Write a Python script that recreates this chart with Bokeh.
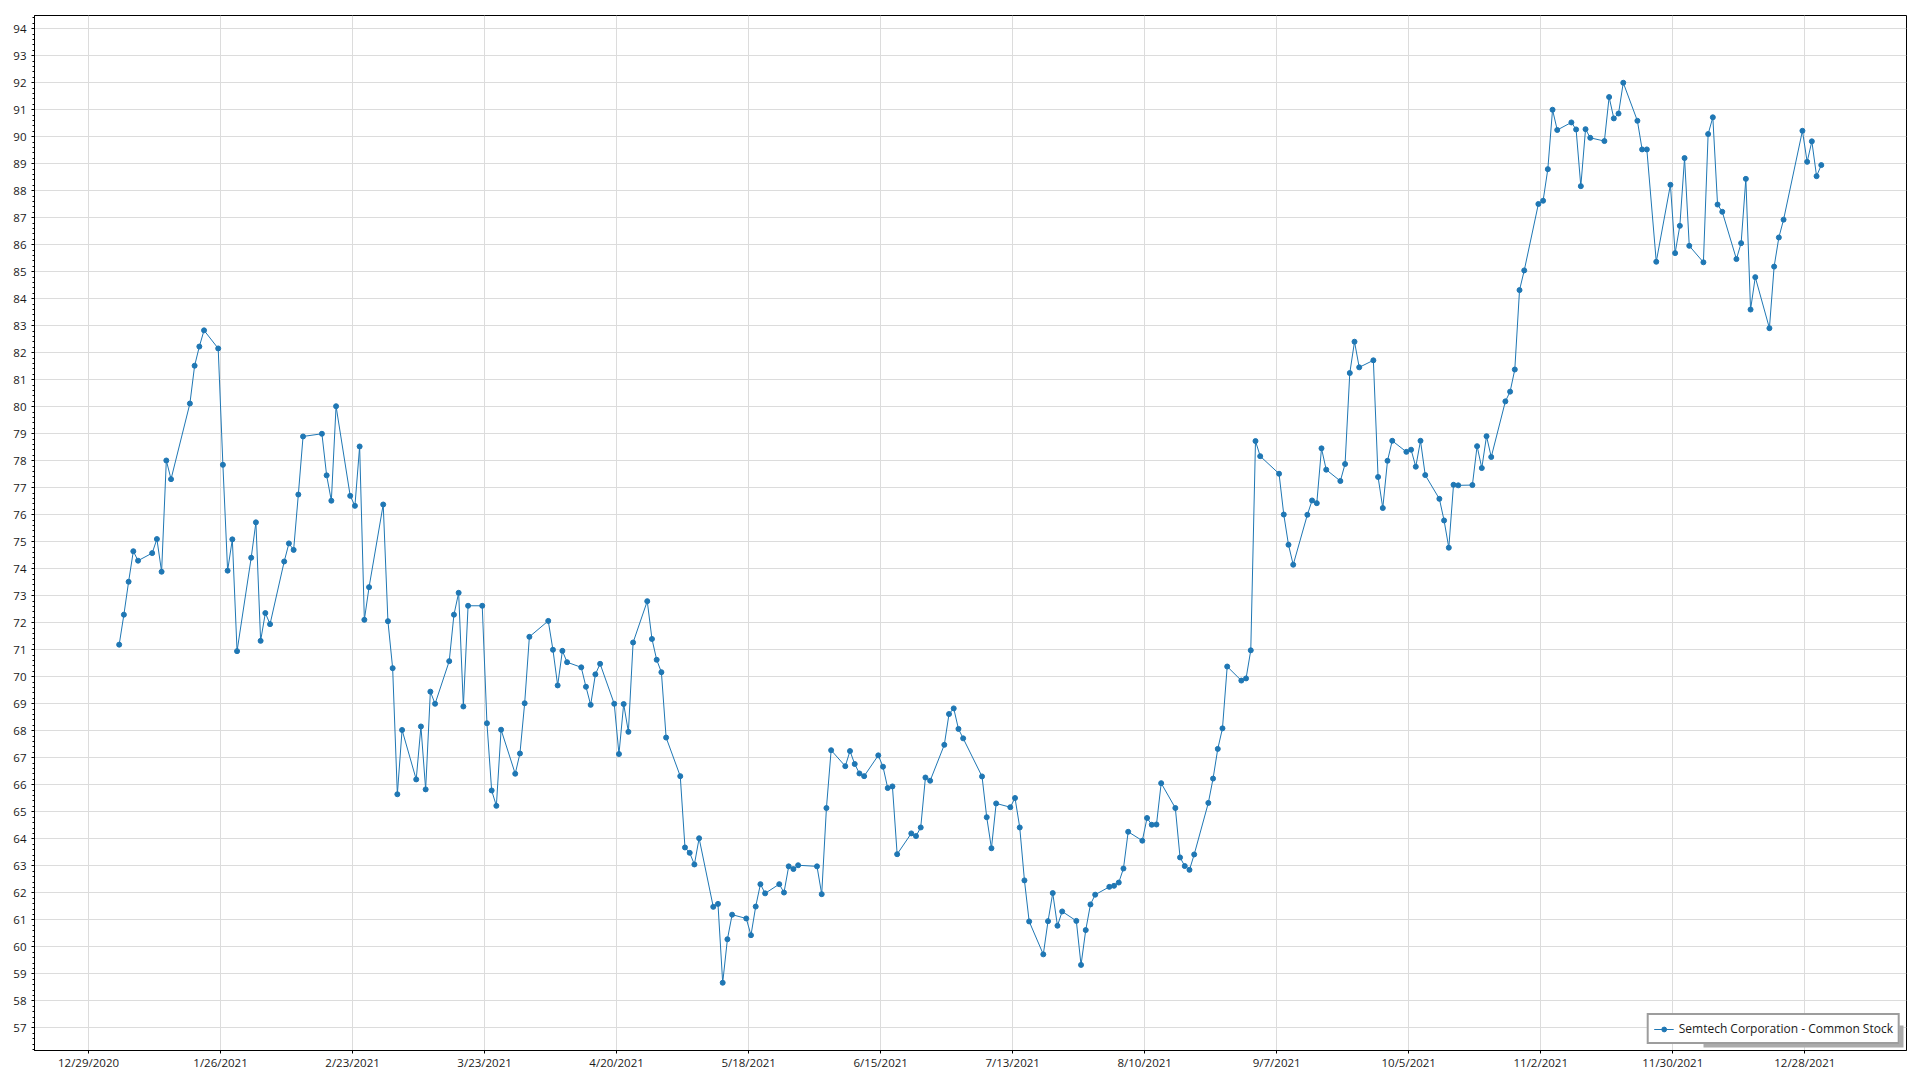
import pandas as pd
from bokeh.plotting import figure
from bokeh.models import (FixedTicker, SingleIntervalTicker, CustomJSTickFormatter,
                          Range1d, ColumnDataSource, BoxAnnotation)
from bokeh.embed import file_html
from bokeh.resources import INLINE

# ---- data ----
series_name = "Semtech Corporation - Common Stock"

trade_dates = [
    "2021-01-04", "2021-01-05", "2021-01-06", "2021-01-07", "2021-01-08",
    "2021-01-11", "2021-01-12", "2021-01-13", "2021-01-14", "2021-01-15",
    "2021-01-19", "2021-01-20", "2021-01-21", "2021-01-22",
    "2021-01-25", "2021-01-26", "2021-01-27", "2021-01-28", "2021-01-29",
    "2021-02-01", "2021-02-02", "2021-02-03", "2021-02-04", "2021-02-05",
    "2021-02-08", "2021-02-09", "2021-02-10", "2021-02-11", "2021-02-12",
    "2021-02-16", "2021-02-17", "2021-02-18", "2021-02-19",
    "2021-02-22", "2021-02-23", "2021-02-24", "2021-02-25", "2021-02-26",
    "2021-03-01", "2021-03-02", "2021-03-03", "2021-03-04", "2021-03-05",
    "2021-03-08", "2021-03-09", "2021-03-10", "2021-03-11", "2021-03-12",
    "2021-03-15", "2021-03-16", "2021-03-17", "2021-03-18", "2021-03-19",
    "2021-03-22", "2021-03-23", "2021-03-24", "2021-03-25", "2021-03-26",
    "2021-03-29", "2021-03-30", "2021-03-31", "2021-04-01",
    "2021-04-05", "2021-04-06", "2021-04-07", "2021-04-08", "2021-04-09",
    "2021-04-12", "2021-04-13", "2021-04-14", "2021-04-15", "2021-04-16",
    "2021-04-19", "2021-04-20", "2021-04-21", "2021-04-22", "2021-04-23",
    "2021-04-26", "2021-04-27", "2021-04-28", "2021-04-29", "2021-04-30",
    "2021-05-03", "2021-05-04", "2021-05-05", "2021-05-06", "2021-05-07",
    "2021-05-10", "2021-05-11", "2021-05-12", "2021-05-13", "2021-05-14",
    "2021-05-17", "2021-05-18", "2021-05-19", "2021-05-20", "2021-05-21",
    "2021-05-24", "2021-05-25", "2021-05-26", "2021-05-27", "2021-05-28",
    "2021-06-01", "2021-06-02", "2021-06-03", "2021-06-04",
    "2021-06-07", "2021-06-08", "2021-06-09", "2021-06-10", "2021-06-11",
    "2021-06-14", "2021-06-15", "2021-06-16", "2021-06-17", "2021-06-18",
    "2021-06-21", "2021-06-22", "2021-06-23", "2021-06-24", "2021-06-25",
    "2021-06-28", "2021-06-29", "2021-06-30", "2021-07-01", "2021-07-02",
    "2021-07-06", "2021-07-07", "2021-07-08", "2021-07-09",
    "2021-07-12", "2021-07-13", "2021-07-14", "2021-07-15", "2021-07-16",
    "2021-07-19", "2021-07-20", "2021-07-21", "2021-07-22", "2021-07-23",
    "2021-07-26", "2021-07-27", "2021-07-28", "2021-07-29", "2021-07-30",
    "2021-08-02", "2021-08-03", "2021-08-04", "2021-08-05", "2021-08-06",
    "2021-08-09", "2021-08-10", "2021-08-11", "2021-08-12", "2021-08-13",
    "2021-08-16", "2021-08-17", "2021-08-18", "2021-08-19", "2021-08-20",
    "2021-08-23", "2021-08-24", "2021-08-25", "2021-08-26", "2021-08-27",
    "2021-08-30", "2021-08-31", "2021-09-01", "2021-09-02", "2021-09-03",
    "2021-09-07", "2021-09-08", "2021-09-09", "2021-09-10",
    "2021-09-13", "2021-09-14", "2021-09-15", "2021-09-16", "2021-09-17",
    "2021-09-20", "2021-09-21", "2021-09-22", "2021-09-23", "2021-09-24",
    "2021-09-27", "2021-09-28", "2021-09-29", "2021-09-30", "2021-10-01",
    "2021-10-04", "2021-10-05", "2021-10-06", "2021-10-07", "2021-10-08",
    "2021-10-11", "2021-10-12", "2021-10-13", "2021-10-14", "2021-10-15",
    "2021-10-18", "2021-10-19", "2021-10-20", "2021-10-21", "2021-10-22",
    "2021-10-25", "2021-10-26", "2021-10-27", "2021-10-28", "2021-10-29",
    "2021-11-01", "2021-11-02", "2021-11-03", "2021-11-04", "2021-11-05",
    "2021-11-08", "2021-11-09", "2021-11-10", "2021-11-11", "2021-11-12",
    "2021-11-15", "2021-11-16", "2021-11-17", "2021-11-18", "2021-11-19",
    "2021-11-22", "2021-11-23", "2021-11-24", "2021-11-26",
    "2021-11-29", "2021-11-30", "2021-12-01", "2021-12-02", "2021-12-03",
    "2021-12-06", "2021-12-07", "2021-12-08", "2021-12-09", "2021-12-10",
    "2021-12-13", "2021-12-14", "2021-12-15", "2021-12-16", "2021-12-17",
    "2021-12-20", "2021-12-21", "2021-12-22", "2021-12-23",
    "2021-12-27", "2021-12-28", "2021-12-29", "2021-12-30", "2021-12-31",
]

close_prices = [
    71.19, 72.30, 73.52, 74.65, 74.30,
    74.58, 75.10, 73.89, 78.01, 77.32,
    80.12, 81.52, 82.23, 82.83,
    82.16, 77.85, 73.93, 75.09, 70.95,
    74.41, 75.72, 71.33, 72.36, 71.95,
    74.27, 74.94, 74.70, 76.75, 78.90,
    79.00, 77.46, 76.52, 80.02,
    76.70, 76.33, 78.53, 72.11, 73.32,
    76.38, 72.06, 70.32, 65.65, 68.03,
    66.20, 68.16, 65.83, 69.45, 69.00,
    70.58, 72.30, 73.11, 68.90, 72.63,
    72.63, 68.28, 65.79, 65.22, 68.04,
    66.41, 67.16, 69.02, 71.48,
    72.07, 71.00, 69.68, 70.96, 70.54,
    70.35, 69.63, 68.96, 70.09, 70.48,
    69.00, 67.14, 68.99, 67.96, 71.27,
    72.80, 71.40, 70.63, 70.17, 67.75,
    66.32, 63.68, 63.48, 63.05, 64.02,
    61.48, 61.59, 58.67, 60.28, 61.19,
    61.05, 60.43, 61.49, 62.32, 61.98,
    62.32, 62.01, 62.98, 62.88, 63.02,
    62.98, 61.95, 65.14, 67.28,
    66.69, 67.25, 66.77, 66.42, 66.32,
    67.09, 66.67, 65.88, 65.94, 63.43,
    64.20, 64.10, 64.42, 66.27, 66.15,
    67.48, 68.62, 68.83, 68.07, 67.72,
    66.31, 64.80, 63.65, 65.31,
    65.17, 65.51, 64.42, 62.46, 60.94,
    59.72, 60.95, 61.99, 60.78, 61.31,
    60.96, 59.33, 60.62, 61.57, 61.93,
    62.22, 62.26, 62.38, 62.90, 64.26,
    63.93, 64.77, 64.52, 64.53, 66.06,
    65.14, 63.31, 62.99, 62.85, 63.42,
    65.33, 66.23, 67.33, 68.09, 70.38,
    69.86, 69.94, 70.98, 78.73, 78.17,
    77.52, 76.01, 74.89, 74.15,
    76.00, 76.53, 76.43, 78.46, 77.67,
    77.25, 77.88, 81.25, 82.41, 81.46,
    81.72, 77.40, 76.25, 78.00, 78.74,
    78.33, 78.41, 77.78, 78.74, 77.47,
    76.59, 75.79, 74.78, 77.11, 77.09,
    77.10, 78.54, 77.73, 78.91, 78.14,
    80.20, 80.56, 81.38, 84.32, 85.05,
    87.51, 87.63, 88.80, 91.00, 90.25,
    90.53, 90.27, 88.17, 90.28, 89.96,
    89.84, 91.47, 90.68, 90.86, 92.00,
    90.59, 89.53, 89.53, 85.37,
    88.22, 85.69, 86.70, 89.21, 85.96,
    85.35, 90.10, 90.72, 87.49, 87.22,
    85.47, 86.06, 88.44, 83.60, 84.80,
    82.91, 85.19, 86.27, 86.93,
    90.22, 89.07, 89.83, 88.54, 88.95,
]

tick_dates = [
    "2020-12-29", "2021-01-26", "2021-02-23", "2021-03-23", "2021-04-20",
    "2021-05-18", "2021-06-15", "2021-07-13", "2021-08-10", "2021-09-07",
    "2021-10-05", "2021-11-02", "2021-11-30", "2021-12-28",
]

# ---- figure ----
FONT = "Open Sans"
BLUE = "#1f77b4"
GRID = "#dcdcdc"

BORDER_L, BORDER_T, BORDER_R, BORDER_B = 34, 15, 13, 28
FRAME_W, FRAME_H = 1872, 1035

src = ColumnDataSource(dict(x=pd.to_datetime(trade_dates), y=close_prices))

p = figure(
    x_axis_type="datetime",
    frame_width=FRAME_W, frame_height=FRAME_H,
    min_border_left=BORDER_L, min_border_right=BORDER_R,
    min_border_top=BORDER_T, min_border_bottom=BORDER_B,
    x_range=Range1d(pd.Timestamp("2020-12-17 01:00"), pd.Timestamp("2022-01-18 01:45")),
    y_range=Range1d(56.16, 94.49),
    output_backend="svg", toolbar_location=None,
    background_fill_color="white", border_fill_color="white",
)

# legend drop shadow: screen units relative to the frame (x from left, y from bottom)
LEG_MARGIN = 6
SHADOW = 3
sh_right = FRAME_W - LEG_MARGIN + SHADOW
sh_bottom = LEG_MARGIN - SHADOW
p.add_layout(BoxAnnotation(
    left=sh_right - 200, right=sh_right, top=sh_bottom + 22, bottom=sh_bottom,
    left_units="screen", right_units="screen", top_units="screen", bottom_units="screen",
    fill_color="#ababab", fill_alpha=1.0, line_color=None, level="underlay",
))

p.line("x", "y", source=src, line_color=BLUE, line_width=1, legend_label=series_name)
p.scatter("x", "y", source=src, size=5, fill_color=BLUE, line_color=BLUE,
          legend_label=series_name)

# x axis: ticks every 4 weeks
half_day = pd.Timedelta(hours=12)
tick_ms = [int((pd.Timestamp(d) - half_day).value // 10**6) for d in tick_dates]
p.xaxis.ticker = FixedTicker(ticks=tick_ms, minor_ticks=[])
p.xaxis.formatter = CustomJSTickFormatter(code="""
    const d = new Date(tick + 43200000);
    return (d.getUTCMonth() + 1) + "/" + d.getUTCDate() + "/" + d.getUTCFullYear();
""")

# y axis: one unit per tick
p.yaxis.ticker = SingleIntervalTicker(interval=1, num_minor_ticks=5)

for ax in (p.xaxis[0], p.yaxis[0]):
    ax.axis_line_color = "black"
    ax.axis_line_width = 1
    ax.major_tick_line_color = "black"
    ax.major_tick_in = 0
    ax.major_tick_out = 3
    ax.minor_tick_line_color = "black"
    ax.minor_tick_in = 0
    ax.minor_tick_out = 2
    ax.major_label_text_font = FONT
    ax.major_label_text_font_size = "11.5px"
    ax.major_label_text_color = "#1a1a1a"
p.xaxis.major_label_standoff = 1
p.yaxis.major_label_standoff = 5

p.xgrid.grid_line_color = GRID
p.ygrid.grid_line_color = GRID

p.outline_line_color = "black"
p.outline_line_width = 1
p.outline_line_alpha = 1

# legend
lg = p.legend[0]
lg.location = "bottom_right"
lg.margin = LEG_MARGIN
lg.padding = 5
lg.spacing = 0
lg.border_line_color = "#3c3c3c"
lg.border_line_width = 2
lg.label_text_font = FONT
lg.label_text_font_size = "12px"
lg.label_text_color = "#1a1a1a"
lg.glyph_width = 20
lg.glyph_height = 12
lg.label_height = 12
lg.label_standoff = 5
lg.background_fill_color = "white"
lg.background_fill_alpha = 1

open("out.html", "w").write(file_html(p, INLINE))
